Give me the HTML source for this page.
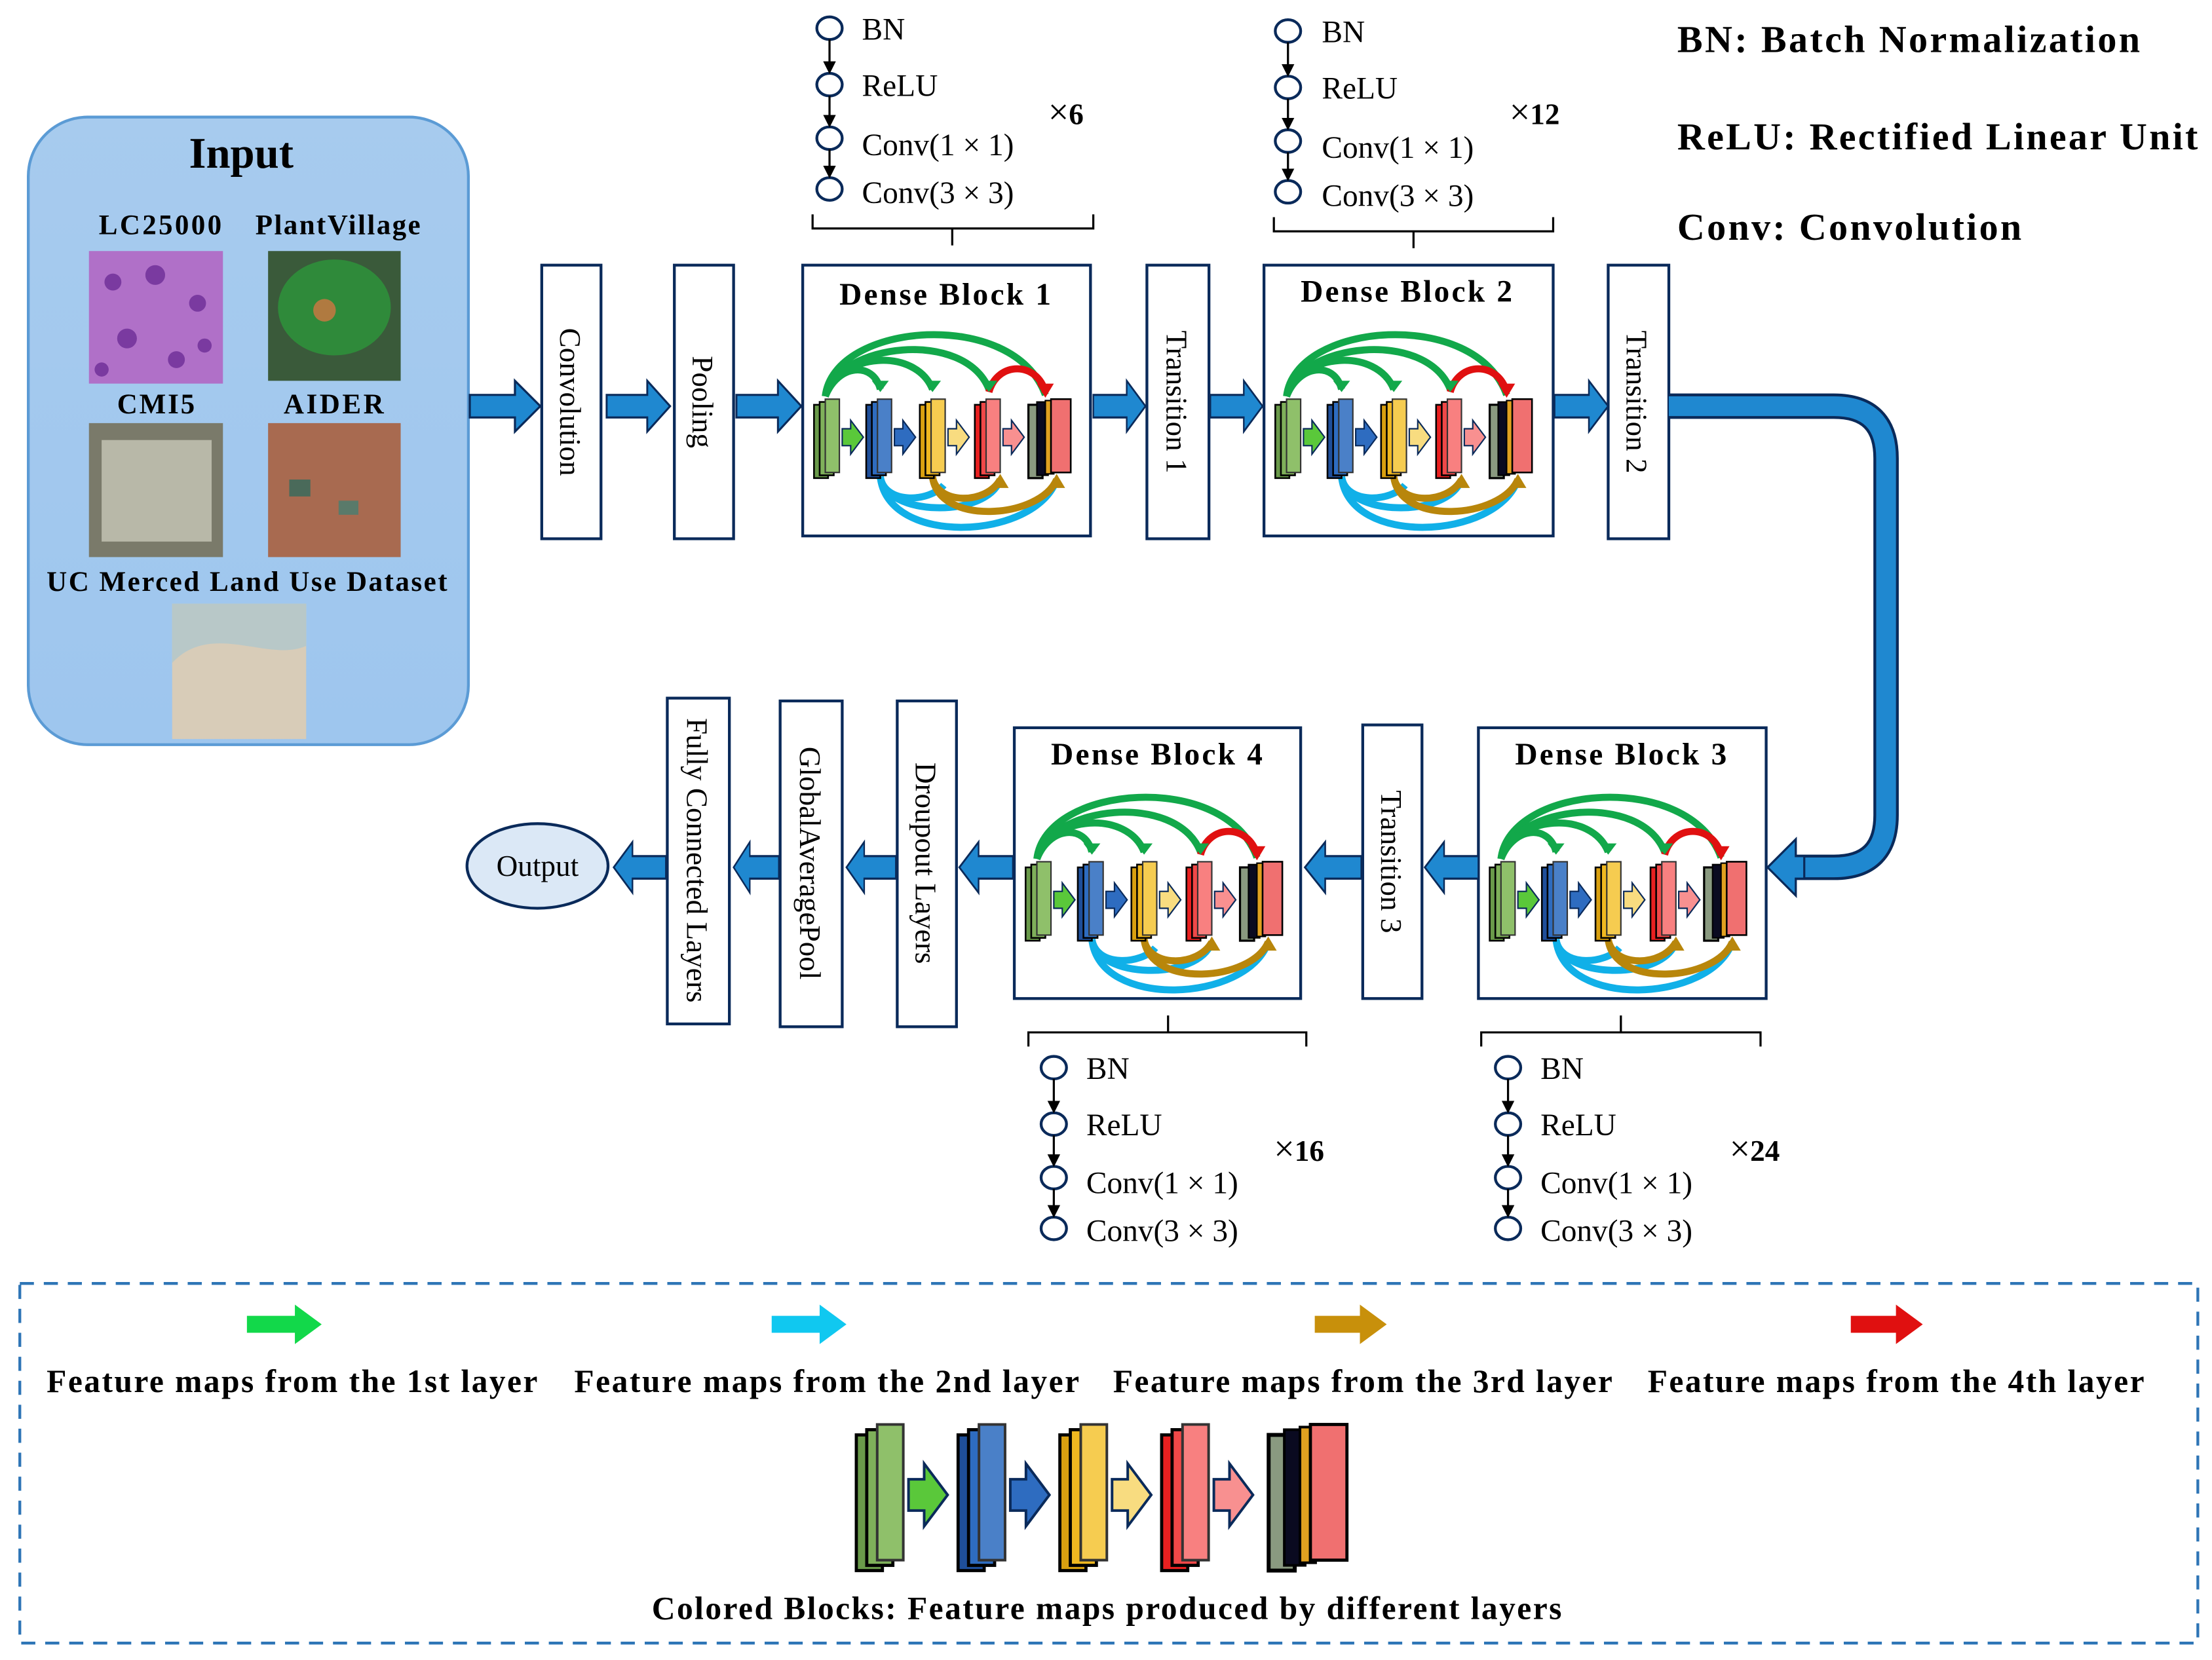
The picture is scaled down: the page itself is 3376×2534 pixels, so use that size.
<!DOCTYPE html>
<html><head><meta charset="utf-8"><style>html,body{margin:0;padding:0;background:#fff}svg{display:block}</style></head>
<body>
<svg width="3376" height="2534" viewBox="0 0 1568 1177" xmlns="http://www.w3.org/2000/svg" font-family="Liberation Serif, serif">
<defs>
<linearGradient id="ib" x1="0" y1="0" x2="0" y2="1"><stop offset="0" stop-color="#a7cbee"/><stop offset="1" stop-color="#9ec6ee"/></linearGradient>
<marker id="ah" markerWidth="6" markerHeight="6" refX="3" refY="3" orient="auto"><path d="M0,0 L6,3 L0,6 z" fill="#000"/></marker>
<g id="sg"><rect x="0" y="4" width="10" height="52" fill="#6a9a4a" stroke="#000" stroke-width="1.2"/><rect x="4" y="2" width="10" height="52" fill="#7fb05a" stroke="#000" stroke-width="1.2"/><rect x="8" y="0" width="10" height="52" fill="#8fc06a" stroke="#333" stroke-width="1"/></g>
<g id="sb"><rect x="0" y="4" width="10" height="52" fill="#1f4f9a" stroke="#000" stroke-width="1.2"/><rect x="4" y="2" width="10" height="52" fill="#2e6cc0" stroke="#000" stroke-width="1.2"/><rect x="8" y="0" width="10" height="52" fill="#4a80c8" stroke="#333" stroke-width="1"/></g>
<g id="sy"><rect x="0" y="4" width="10" height="52" fill="#d9a010" stroke="#000" stroke-width="1.2"/><rect x="4" y="2" width="10" height="52" fill="#f0b820" stroke="#000" stroke-width="1.2"/><rect x="8" y="0" width="10" height="52" fill="#f6cc50" stroke="#333" stroke-width="1"/></g>
<g id="sr"><rect x="0" y="4" width="10" height="52" fill="#e82020" stroke="#000" stroke-width="1.2"/><rect x="4" y="2" width="10" height="52" fill="#f04848" stroke="#000" stroke-width="1.2"/><rect x="8" y="0" width="10" height="52" fill="#f88080" stroke="#333" stroke-width="1"/></g>
<g id="sf"><rect x="0" y="4" width="10" height="52" fill="#8a9a80" stroke="#000" stroke-width="1.5"/><rect x="6" y="2" width="8" height="52" fill="#0a0a20" stroke="#000"/><rect x="12" y="1" width="6" height="52" fill="#e0a020" stroke="#000"/><rect x="16" y="0" width="14" height="52" fill="#f07070" stroke="#000" stroke-width="1.2"/></g>
<g id="db">
<path d="M16,93 C22,40 150,30 172,92" fill="none" stroke="#12a84a" stroke-width="5"/>
<path d="M16,93 C25,55 115,45 132,88" fill="none" stroke="#12a84a" stroke-width="5"/>
<path d="M16,93 C26,62 80,58 92,88" fill="none" stroke="#12a84a" stroke-width="5"/>
<path d="M16,93 C25,70 50,68 55,88" fill="none" stroke="#12a84a" stroke-width="5"/>
<path d="M132,90 C138,68 166,68 172,90" fill="none" stroke="#e01010" stroke-width="5"/>
<path d="M49,82 l6,8 l6,-8z M86,82 l6,8 l6,-8z M126,82 l6,8 l6,-8z" fill="#12a84a"/>
<path d="M166,84 l6,10 l6,-10z" fill="#e01010"/>
<path d="M55,150 C60,200 165,195 180,152" fill="none" stroke="#10b0e8" stroke-width="5"/>
<path d="M55,150 C58,178 130,180 140,152" fill="none" stroke="#10b0e8" stroke-width="5"/>
<path d="M55,150 C58,170 90,168 100,156" fill="none" stroke="#10b0e8" stroke-width="5"/>
<path d="M92,150 C96,185 168,180 180,152" fill="none" stroke="#b8860b" stroke-width="5"/>
<path d="M92,150 C95,170 130,170 140,152" fill="none" stroke="#b8860b" stroke-width="5"/>
<path d="M174,158 l6,-10 l6,10z M134,158 l6,-10 l6,10z" fill="#b8860b"/>
<use href="#sg" x="8" y="95"/><use href="#sb" x="45" y="95"/><use href="#sy" x="83" y="95"/><use href="#sr" x="122" y="95"/><use href="#sf" x="160" y="95"/>
<path d="M28,116 h6 v-6 l9,12 l-9,12 v-6 h-6z" fill="#5ac83a" stroke="#0a2a5a"/>
<path d="M65,116 h6 v-6 l9,12 l-9,12 v-6 h-6z" fill="#2e6cc0" stroke="#0a2a5a"/>
<path d="M103,116 h6 v-6 l9,12 l-9,12 v-6 h-6z" fill="#f8dc80" stroke="#0a2a5a"/>
<path d="M142,116 h6 v-6 l9,12 l-9,12 v-6 h-6z" fill="#f89090" stroke="#0a2a5a"/>
</g>
<path id="ar" d="M0,-8 h32 v-10 l18,18 l-18,18 v-10 h-32z" fill="#1f88d0" stroke="#0a2a5a" stroke-width="1.5"/>
<g id="bn"><g fill="none" stroke="#0a2a5a" stroke-width="2"><ellipse cx="0" cy="0" rx="9" ry="8"/><ellipse cx="0" cy="40" rx="9" ry="8"/><ellipse cx="0" cy="78" rx="9" ry="8"/><ellipse cx="0" cy="114" rx="9" ry="8"/></g>
<g stroke="#000" stroke-width="1.5" marker-end="url(#ah)"><line x1="0" y1="8" x2="0" y2="28"/><line x1="0" y1="48" x2="0" y2="66"/><line x1="0" y1="86" x2="0" y2="102"/></g></g>
</defs>

<rect x="20" y="83" width="312" height="445" rx="42" fill="url(#ib)" stroke="#5b9bd5" stroke-width="2"/>
<text x="171" y="119" font-size="31" font-weight="bold" text-anchor="middle">Input</text>
<g font-size="20" font-weight="bold" lengthAdjust="spacingAndGlyphs">
<text x="70" y="166" textLength="87">LC25000</text><text x="181" y="166" textLength="117">PlantVillage</text>
<text x="83" y="293" textLength="55">CMI5</text><text x="201" y="293" textLength="71">AIDER</text>
<text x="33" y="419" textLength="284">UC Merced Land Use Dataset</text></g>
<rect x="63" y="178" width="95" height="94" fill="#b070c8"/>
<g fill="#7a3aa0"><circle cx="80" cy="200" r="6"/><circle cx="110" cy="195" r="7"/><circle cx="140" cy="215" r="6"/><circle cx="90" cy="240" r="7"/><circle cx="125" cy="255" r="6"/><circle cx="145" cy="245" r="5"/><circle cx="72" cy="262" r="5"/></g>
<rect x="190" y="178" width="94" height="92" fill="#3a5a3a"/><ellipse cx="237" cy="218" rx="40" ry="34" fill="#2f8a3a"/><circle cx="230" cy="220" r="8" fill="#b07a40"/>
<rect x="63" y="300" width="95" height="95" fill="#7a7a6a"/><rect x="72" y="312" width="78" height="72" fill="#b8b8a8"/>
<rect x="190" y="300" width="94" height="95" fill="#a86a50"/><rect x="205" y="340" width="15" height="12" fill="#4a6a5a"/><rect x="240" y="355" width="14" height="10" fill="#5a7a6a"/>
<rect x="122" y="428" width="95" height="96" fill="#d8ccb8"/><path d="M122,428 h95 v30 C190,470 150,440 122,470z" fill="#b8c8c8"/>

<g fill="#fff" stroke="#0a2a5a" stroke-width="2">
<rect x="384" y="188" width="42" height="194"/><rect x="478" y="188" width="42" height="194"/>
<rect x="569" y="188" width="204" height="192"/><rect x="813" y="188" width="44" height="194"/>
<rect x="896" y="188" width="205" height="192"/><rect x="1140" y="188" width="43" height="194"/>
<rect x="1048" y="516" width="204" height="192"/><rect x="966" y="514" width="42" height="194"/>
<rect x="719" y="516" width="203" height="192"/><rect x="636" y="497" width="42" height="231"/>
<rect x="553" y="497" width="44" height="231"/><rect x="473" y="495" width="44" height="231"/>
</g>
<g font-size="21" fill="#000">
<text transform="translate(397,285) rotate(90)" text-anchor="middle">Convolution</text>
<text transform="translate(491,285) rotate(90)" text-anchor="middle">Pooling</text>
<text transform="translate(827,285) rotate(90)" text-anchor="middle">Transition 1</text>
<text transform="translate(1153,285) rotate(90)" text-anchor="middle">Transition 2</text>
<text transform="translate(979,611) rotate(90)" text-anchor="middle">Transition 3</text>
<text transform="translate(649,612) rotate(90)" text-anchor="middle">Droupout Layers</text>
<text transform="translate(567,612) rotate(90)" text-anchor="middle">GlobalAveragePool</text>
<text transform="translate(487,610) rotate(90)" text-anchor="middle">Fully Connected Layers</text>
</g>
<g font-size="22" font-weight="bold" lengthAdjust="spacingAndGlyphs">
<text x="595" y="216" textLength="150">Dense Block 1</text><text x="922" y="214" textLength="150">Dense Block 2</text>
<text x="1074" y="542" textLength="150">Dense Block 3</text><text x="745" y="542" textLength="150">Dense Block 4</text></g>
<use href="#db" x="569" y="188"/><use href="#db" x="896" y="188"/>
<use href="#db" x="1048" y="516"/><use href="#db" x="719" y="516"/>

<use href="#ar" transform="translate(333,288) scale(1,1)"/>
<use href="#ar" transform="translate(430,288) scale(0.9,1)"/>
<use href="#ar" transform="translate(522,288) scale(0.92,1)"/>
<use href="#ar" transform="translate(775,288) scale(0.74,1)"/>
<use href="#ar" transform="translate(858,288) scale(0.74,1)"/>
<use href="#ar" transform="translate(1102,288) scale(0.76,1)"/>
<use href="#ar" transform="translate(1048,615) scale(-0.76,1)"/>
<use href="#ar" transform="translate(965,615) scale(-0.8,1)"/>
<use href="#ar" transform="translate(718,615) scale(-0.76,1)"/>
<use href="#ar" transform="translate(635,615) scale(-0.7,1)"/>
<use href="#ar" transform="translate(552,615) scale(-0.64,1)"/>
<use href="#ar" transform="translate(472,615) scale(-0.74,1)"/>
<path d="M1183,288 H1300 Q1337,288 1337,325 V578 Q1337,615 1300,615 H1270" fill="none" stroke="#0a2a5a" stroke-width="18"/>
<path d="M1183,288 H1300 Q1337,288 1337,325 V578 Q1337,615 1300,615 H1270" fill="none" stroke="#1f88d0" stroke-width="14"/>
<path d="M1253,615 l20,-20 v12 h6 v16 h-6 v12z" fill="#1f88d0" stroke="#0a2a5a" stroke-width="1.5"/>
<ellipse cx="381" cy="614" rx="50" ry="30" fill="#dbe8f6" stroke="#0a2a5a" stroke-width="2"/>
<text x="381" y="621" font-size="21" text-anchor="middle">Output</text>

<use href="#bn" x="588" y="20"/><use href="#bn" x="913" y="22"/><use href="#bn" x="747" y="757"/><use href="#bn" x="1069" y="757"/>
<g font-size="22">
<text x="611" y="28">BN</text><text x="611" y="68">ReLU</text><text x="611" y="110">Conv(1 × 1)</text><text x="611" y="144">Conv(3 × 3)</text>
<text x="937" y="30">BN</text><text x="937" y="70">ReLU</text><text x="937" y="112">Conv(1 × 1)</text><text x="937" y="146">Conv(3 × 3)</text>
<text x="770" y="765">BN</text><text x="770" y="805">ReLU</text><text x="770" y="846">Conv(1 × 1)</text><text x="770" y="880">Conv(3 × 3)</text>
<text x="1092" y="765">BN</text><text x="1092" y="805">ReLU</text><text x="1092" y="846">Conv(1 × 1)</text><text x="1092" y="880">Conv(3 × 3)</text>
</g>
<g font-size="26"><text x="743" y="88">×<tspan font-weight="bold" font-size="21">6</tspan></text><text x="1070" y="88">×<tspan font-weight="bold" font-size="21">12</tspan></text>
<text x="903" y="823">×<tspan font-weight="bold" font-size="21">16</tspan></text><text x="1226" y="823">×<tspan font-weight="bold" font-size="21">24</tspan></text></g>
<g fill="none" stroke="#000" stroke-width="1.5">
<path d="M576,152 v10 H775 v-10 M675,162 v12"/>
<path d="M903,154 v10 H1101 v-10 M1002,164 v12"/>
<path d="M729,742 v-10 H926 v10 M828,732 v-12"/>
<path d="M1050,742 v-10 H1248 v10 M1149,732 v-12"/>
</g>
<g font-size="27" font-weight="bold" lengthAdjust="spacingAndGlyphs"><text x="1189" y="37" textLength="328">BN: Batch Normalization</text><text x="1189" y="106" textLength="369">ReLU: Rectified Linear Unit</text><text x="1189" y="170" textLength="244">Conv: Convolution</text></g>

<rect x="14" y="910" width="1544" height="255" fill="none" stroke="#2e75b6" stroke-width="2" stroke-dasharray="10,7"/>
<path d="M175,933 h34 v-8 l19,14 l-19,14 v-8 h-34z" fill="#12d84a"/>
<path d="M547,933 h34 v-8 l19,14 l-19,14 v-8 h-34z" fill="#10c8f0"/>
<path d="M932,933 h32 v-8 l19,14 l-19,14 v-8 h-32z" fill="#c8900b"/>
<path d="M1312,933 h32 v-8 l19,14 l-19,14 v-8 h-32z" fill="#e01010"/>
<g font-size="23" font-weight="bold" lengthAdjust="spacingAndGlyphs">
<text x="33" y="987" textLength="348">Feature maps from the 1st layer</text><text x="407" y="987" textLength="358">Feature maps from the 2nd layer</text>
<text x="789" y="987" textLength="354">Feature maps from the 3rd layer</text><text x="1168" y="987" textLength="352">Feature maps from the 4th layer</text>
<text x="462" y="1148" textLength="645">Colored Blocks: Feature maps produced by different layers</text></g>
<g transform="translate(607,1010) scale(1.85)">
<use href="#sg" x="0" y="0"/><use href="#sb" x="39" y="0"/><use href="#sy" x="78" y="0"/><use href="#sr" x="117" y="0"/><use href="#sf" x="158" y="0"/>
<path d="M20,21 h6 v-6 l9,12 l-9,12 v-6 h-6z" fill="#5ac83a" stroke="#0a2a5a"/>
<path d="M59,21 h6 v-6 l9,12 l-9,12 v-6 h-6z" fill="#2e6cc0" stroke="#0a2a5a"/>
<path d="M98,21 h6 v-6 l9,12 l-9,12 v-6 h-6z" fill="#f8dc80" stroke="#0a2a5a"/>
<path d="M137,21 h6 v-6 l9,12 l-9,12 v-6 h-6z" fill="#f89090" stroke="#0a2a5a"/>
</g>
</svg>
</body></html>
